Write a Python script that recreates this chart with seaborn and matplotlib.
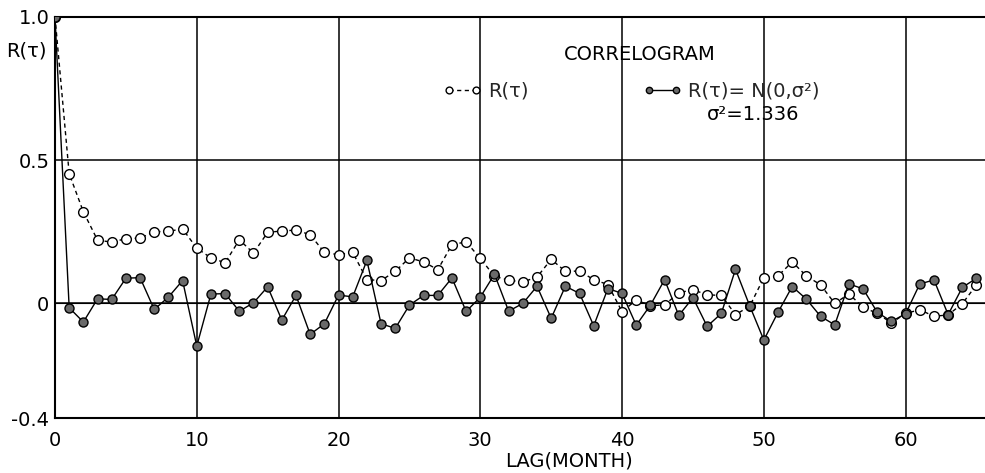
import numpy as np
import pandas as pd
import matplotlib
matplotlib.use("Agg")
import matplotlib.pyplot as plt
import seaborn as sns

sns.set_theme(style="white")
plt.rcParams['font.family'] = ['DejaVu Sans']

lags = list(range(66))
r_sample = [1.0, 0.453, 0.32, 0.221, 0.214, 0.226, 0.228, 0.25, 0.252, 0.26,
            0.193, 0.159, 0.142, 0.222, 0.176, 0.248, 0.253, 0.256, 0.24, 0.178,
            0.170, 0.178, 0.083, 0.08, 0.112, 0.159, 0.145, 0.118, 0.205, 0.215,
            0.157, 0.095, 0.081, 0.075, 0.092, 0.154, 0.112, 0.113, 0.083, 0.066,
            -0.029, 0.012, -0.008, -0.005, 0.037, 0.048, 0.03, 0.028, -0.039, -0.01,
            0.09, 0.096, 0.145, 0.096, 0.065, 0.0, 0.033, -0.013, -0.035, -0.068,
            -0.035, -0.022, -0.045, -0.04, -0.001, 0.065]
r_normal = [1.0, -0.015, -0.065, 0.016, 0.014, 0.088, 0.09, -0.021, 0.022, 0.08,
            -0.149, 0.033, 0.034, -0.027, 0.002, 0.058, -0.058, 0.028, -0.108, -0.071,
            0.029, 0.023, 0.150, -0.071, -0.087, -0.006, 0.028, 0.028, 0.089, -0.028,
            0.022, 0.102, -0.027, 0.0, 0.060, -0.052, 0.060, 0.035, -0.078, 0.052,
            0.035, -0.076, -0.006, 0.083, -0.042, 0.02, -0.08, -0.035, 0.119, -0.008,
            -0.128, -0.031, 0.059, 0.015, -0.045, -0.075, 0.068, 0.051, -0.031, -0.063,
            -0.036, 0.068, 0.082, -0.039, 0.056, 0.088]
x_ticks = [0, 10, 20, 30, 40, 50, 60]
y_ticks = [-0.4, 0, 0.5, 1.0]
y_tick_labels = ["-0.4", "0", "0.5", "1.0"]

df_s = pd.DataFrame({"lag": lags, "r": r_sample})
df_n = pd.DataFrame({"lag": lags, "r": r_normal})

fig = plt.figure(figsize=(9.85, 4.73), dpi=100)
ax = fig.add_axes([55/985, 1 - 418/473, 930/985, 401/473])

sns.lineplot(data=df_s, x="lag", y="r", ax=ax, color="black", lw=1.0,
             linestyle=(0, (3, 2.5)), marker="o", markersize=7,
             markerfacecolor="white", markeredgecolor="black", markeredgewidth=1.0,
             label="R(\u03c4)", zorder=4)
sns.lineplot(data=df_n, x="lag", y="r", ax=ax, color="black", lw=1.0,
             linestyle="-", marker="o", markersize=6.5,
             markerfacecolor="#6a6a6a", markeredgecolor="black", markeredgewidth=1.0,
             label="R(\u03c4)= N(0,\u03c3\u00b2)", zorder=5)

ax.set_xlim(0, 65.6)
ax.set_ylim(-0.4, 1.0)
ax.set_xticks(x_ticks)
ax.set_yticks(y_ticks)
ax.set_yticklabels(y_tick_labels)
ax.tick_params(axis="both", length=0, labelsize=14, colors="black")
ax.tick_params(axis="x", pad=9)
ax.tick_params(axis="y", pad=4)
ax.grid(True, color="black", lw=1.1)
ax.axhline(0, color="black", lw=0.8, zorder=1)
for s in ["top", "left", "bottom"]:
    ax.spines[s].set_color("black")
    ax.spines[s].set_linewidth(1.5)
ax.spines["right"].set_visible(False)

ax.set_xlabel("LAG(MONTH)", fontsize=14, color="black")
ax.xaxis.label.set_va("center")
ax.xaxis.set_label_coords(0.553, -(461 - 418) / 401)
ax.set_ylabel("R(\u03c4)", fontsize=14, rotation=0, color="black")
ax.yaxis.label.set_va("center")
ax.yaxis.label.set_ha("center")
ax.yaxis.set_label_coords(-0.031, (418 - 51) / 401)

handles, labels = ax.get_legend_handles_labels()
leg = ax.legend(handles, labels, ncol=2, frameon=False,
                fontsize=14, numpoints=2, handlelength=2.0,
                markerscale=0.7, columnspacing=5.9, handletextpad=0.3,
                borderpad=0, borderaxespad=0,
                loc="center left", bbox_to_anchor=((443 - 55) / 930, (418 - 91) / 401))
ax.text((640 - 55) / 930, (418 - 55) / 401, "CORRELOGRAM", transform=ax.transAxes,
        fontsize=14, ha="center", va="center", color="black")
ax.text((707 - 55) / 930, (418 - 114) / 401, "\u03c3\u00b2=1.336", transform=ax.transAxes,
        fontsize=14, ha="left", va="center", color="black")

fig.savefig("out.png", dpi=100)
